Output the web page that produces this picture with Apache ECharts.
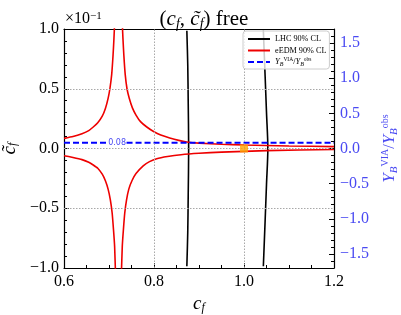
<!DOCTYPE html>
<html><head><meta charset="utf-8">
<script src="https://cdn.jsdelivr.net/npm/echarts@6/dist/echarts.min.js"></script>
<style>html,body{margin:0;padding:0;background:#fff}#c{width:401px;height:315px}</style>
</head><body><div id="c"></div>
<script>
// ---- data (left axis in units of 10^-1) ----
const xTicks = [0.6, 0.8, 1.0, 1.2];
const leftTicks = [-1.0, -0.5, 0.0, 0.5, 1.0];
const rightTicks = [-1.5, -1.0, -0.5, 0.0, 0.5, 1.0, 1.5];
const gridX = [0.8, 1.0];
const gridY = [-0.5, 0.0, 0.5];

const eedmUpperLeft = [[0.600,0.085],[0.620,0.100],[0.640,0.124],[0.655,0.150],[0.665,0.180],[0.675,0.215],[0.685,0.270],[0.692,0.335],[0.698,0.42],[0.702,0.50],[0.706,0.62],[0.709,0.78],[0.711,0.92],[0.7125,1.05]];
const eedmUpperRight = [[0.7295,1.05],[0.731,0.92],[0.733,0.78],[0.736,0.62],[0.740,0.50],[0.745,0.42],[0.752,0.34],[0.760,0.28],[0.770,0.225],[0.784,0.180],[0.800,0.140],[0.815,0.113],[0.835,0.088],[0.855,0.068],[0.873,0.055],[0.90,0.045],[0.95,0.036],[1.0,0.029],[1.1,0.021],[1.2,0.016]];
const eedmLowerLeft = [[0.600,-0.060],[0.620,-0.075],[0.640,-0.093],[0.655,-0.115],[0.665,-0.138],[0.675,-0.165],[0.685,-0.215],[0.692,-0.27],[0.698,-0.34],[0.703,-0.43],[0.707,-0.54],[0.710,-0.68],[0.7125,-0.82],[0.7145,-1.05]];
const eedmLowerRight = [[0.7275,-1.05],[0.7295,-0.82],[0.732,-0.68],[0.735,-0.54],[0.739,-0.43],[0.744,-0.34],[0.751,-0.27],[0.760,-0.21],[0.776,-0.145],[0.790,-0.11],[0.806,-0.085],[0.83,-0.067],[0.86,-0.052],[0.90,-0.04],[0.95,-0.03],[1.05,-0.018],[1.2,-0.008]];

const lhcLeft = [[0.873,0.985],[0.875,0.7],[0.876,0.4],[0.877,0.0],[0.876,-0.4],[0.875,-0.7],[0.873,-0.985]];
const lhcRight = [[1.043,0.985],[1.047,0.6],[1.050,0.3],[1.053,0.0],[1.050,-0.3],[1.047,-0.6],[1.043,-0.985]];

const ybLevel = 0.048;
const ybLabelText = '0.08';
const ybLabelX = 0.718;
const ybSegments = [[[0.6, ybLevel],[0.697, ybLevel]], [[0.739, ybLevel],[1.2, ybLevel]]];
const refPoint = [[1.0, 0.0]];

// ---- chart ----
const F = 'Liberation Serif';
const BLUE_TXT = '#4a4af2';
const fmt = v => { const r = Math.round(v*10)/10; return (r < 0 ? '\u2212' : '') + Math.abs(r).toFixed(1); };
const near = (arr, v) => arr.some(t => Math.abs(t - v) < 1e-6);

const chart = echarts.init(document.getElementById('c'), null, {renderer: 'canvas'});

const redSeries = [eedmUpperLeft, eedmUpperRight, eedmLowerLeft, eedmLowerRight].map(d => ({
  name: 'eEDM 90% CL', type: 'line', data: d, symbol: 'none', showSymbol: false, smooth: 0.15,
  lineStyle: {color: '#ee0000', width: 1.6}, itemStyle: {color: '#ee0000'}, z: 3
}));
const blackSeries = [lhcLeft, lhcRight].map(d => ({
  name: 'LHC 90% CL', type: 'line', data: d, symbol: 'none', showSymbol: false, smooth: 0.3,
  lineStyle: {color: '#000', width: 1.6}, itemStyle: {color: '#000'}, z: 3
}));
const blueSeries = ybSegments.map((d, i) => ({
  name: 'YB', type: 'line', data: d, symbol: 'none', showSymbol: false,
  lineStyle: {color: '#0000ff', width: 1.8, type: [6, 3]}, itemStyle: {color: '#0000ff'}, z: 4,
  markPoint: i === 0 ? {
    symbol: 'circle', symbolSize: 0, silent: true,
    data: [{coord: [ybLabelX, ybLevel]}],
    label: {show: true, position: 'inside', formatter: ybLabelText, color: BLUE_TXT, fontSize: 8, fontFamily: 'DejaVu Sans'}
  } : undefined
}));

const solidIcon = 'path://M0,0h22v2h-22z';
const dashIcon = 'path://M0,0h6v2h-6z M9,0h6v2h-6z M18,0h4v2h-4z';

const option = {
  animation: false,
  backgroundColor: '#fff',
  grid: {left: 64, right: 67, top: 29, bottom: 47, containLabel: false, outerBoundsMode: 'none'},
  title: {
    text: '({i|c}{s|f}, {i|c\u0303}{s|f}) free', left: 199, top: 2, textAlign: 'center',
    textStyle: {fontFamily: F, fontSize: 21, fontWeight: 'normal', color: '#000',
      rich: {i: {fontFamily: F, fontStyle: 'italic', fontSize: 21, verticalAlign: 'middle', lineHeight: 24},
             s: {fontFamily: F, fontStyle: 'italic', fontSize: 14, verticalAlign: 'bottom', lineHeight: 13}}}
  },
  graphic: [{
    type: 'text', left: 65, top: 11, z: 10,
    style: {text: '\u00d710{s|\u22121}', fontFamily: F, fontSize: 16, fill: '#000',
      rich: {s: {fontFamily: F, fontSize: 11, verticalAlign: 'top', lineHeight: 12}}}
  }],
  legend: {
    left: 243, top: 31, orient: 'vertical',
    data: [{name: 'LHC 90% CL', icon: solidIcon}, {name: 'eEDM 90% CL', icon: solidIcon}, {name: 'YB', icon: dashIcon}],
    itemWidth: 22, itemHeight: 2, itemGap: 1.5,
    padding: [3, 3, 2, 5],
    backgroundColor: 'rgba(255,255,255,0.8)', borderColor: '#cccccc', borderWidth: 1, borderRadius: 3,
    formatter: n => n === 'YB' ? '{i|Y}{s|B}{p|VIA}/{i|Y}{s|B}{p|obs}' : n,
    textStyle: {fontFamily: F, fontSize: 8.2, color: '#000', lineHeight: 10,
      rich: {i: {fontStyle: 'italic', fontSize: 8.5, fontFamily: F, verticalAlign: 'middle', lineHeight: 10},
             s: {fontStyle: 'italic', fontSize: 6, fontFamily: F, verticalAlign: 'bottom', lineHeight: 7},
             p: {fontSize: 5.5, fontFamily: F, verticalAlign: 'top', lineHeight: 7}}},
    z: 10
  },
  xAxis: [{
    type: 'value', min: 0.6, max: 1.2, interval: 0.2,
    name: '{i|c}{s|f}', nameLocation: 'middle', nameGap: 23,
    nameTextStyle: {fontFamily: F, fontSize: 18, color: '#000',
      rich: {i: {fontFamily: F, fontStyle: 'italic', fontSize: 19, verticalAlign: 'middle', lineHeight: 18},
             s: {fontFamily: F, fontStyle: 'italic', fontSize: 12, verticalAlign: 'bottom', lineHeight: 12}}},
    axisLine: {show: true, onZero: false, lineStyle: {color: '#000', width: 1.2}},
    axisTick: {show: true, inside: true, length: 5, lineStyle: {color: '#000', width: 1}},
    minorTick: {show: true, splitNumber: 4, length: 3, lineStyle: {color: '#000', width: 1}},
    axisLabel: {formatter: v => near(xTicks, v) ? fmt(v) : '', fontFamily: F, fontSize: 16, color: '#000', margin: 6},
    splitLine: {show: false}
  }, {
    type: 'value', position: 'top', min: 0.6, max: 1.2,
    axisLine: {show: true, onZero: false, lineStyle: {color: '#000', width: 1.2}},
    axisTick: {show: false}, axisLabel: {show: false}, splitLine: {show: false}
  }],
  yAxis: [{
    type: 'value', min: -1, max: 1, interval: 0.5,
    name: '{i|c\u0303}{s|f}', nameLocation: 'middle', nameRotate: 90, nameGap: 40,
    nameTextStyle: {fontFamily: F, fontSize: 18, color: '#000',
      rich: {i: {fontFamily: F, fontStyle: 'italic', fontSize: 19, verticalAlign: 'middle', lineHeight: 18},
             s: {fontFamily: F, fontStyle: 'italic', fontSize: 12, verticalAlign: 'bottom', lineHeight: 12}}},
    axisLine: {show: true, onZero: false, lineStyle: {color: '#000', width: 1.2}},
    axisTick: {show: true, inside: true, length: 5, lineStyle: {color: '#000', width: 1}},
    minorTick: {show: true, splitNumber: 5, length: 3, lineStyle: {color: '#000', width: 1}},
    axisLabel: {formatter: v => near(leftTicks, v) ? fmt(v) : '', fontFamily: F, fontSize: 16, color: '#000', margin: 5},
    splitLine: {show: false}
  }, {
    type: 'value', position: 'right', min: -1.7, max: 1.7, splitNumber: 7,
    name: '{i|Y}{s|B}{p|VIA}/{i|Y}{s|B}{p|obs}', nameLocation: 'middle', nameRotate: 90, nameGap: 44,
    nameTextStyle: {fontFamily: F, fontSize: 16, color: BLUE_TXT,
      rich: {i: {fontFamily: F, fontStyle: 'italic', fontSize: 17, color: BLUE_TXT, verticalAlign: 'middle', lineHeight: 20},
             s: {fontFamily: F, fontStyle: 'italic', fontSize: 11, color: BLUE_TXT, verticalAlign: 'bottom', lineHeight: 11},
             p: {fontFamily: F, fontSize: 10, color: BLUE_TXT, verticalAlign: 'top', lineHeight: 11}}},
    axisLine: {show: true, onZero: false, lineStyle: {color: '#000', width: 1.2}},
    axisTick: {show: true, inside: true, length: 5, lineStyle: {color: '#000', width: 1}},
    minorTick: {show: true, splitNumber: 5, length: 3, lineStyle: {color: '#000', width: 1}},
    axisLabel: {formatter: v => near(rightTicks, v) ? fmt(v) : '', fontFamily: F, fontSize: 16, color: BLUE_TXT, margin: 6},
    splitLine: {show: false}
  }],
  series: [
    {
      name: 'grid', type: 'line', data: [], symbol: 'none', z: 1, silent: true,
      markLine: {
        silent: true, symbol: 'none', label: {show: false},
        lineStyle: {color: '#a8a8a8', width: 1, type: [1.5, 1.5]},
        data: gridX.map(v => ({xAxis: v})).concat(gridY.map(v => ({yAxis: v})))
      }
    },
    ...blackSeries,
    ...redSeries,
    ...blueSeries,
    {
      name: 'ref', type: 'scatter', data: refPoint, symbol: 'rect', symbolSize: [8, 8],
      itemStyle: {color: '#ffa500'}, z: 6
    }
  ]
};
chart.setOption(option);
</script></body></html>
